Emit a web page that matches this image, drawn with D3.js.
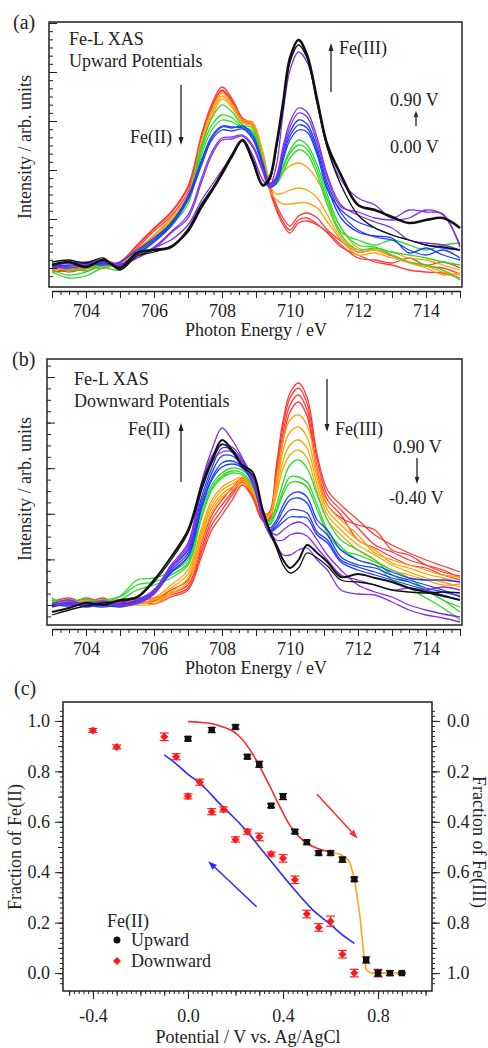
<!DOCTYPE html>
<html>
<head>
<meta charset="utf-8">
<script src="https://cdn.jsdelivr.net/npm/d3@7"></script>
<style>
body { margin: 0; background: #fff; }
text { font-family: "Liberation Serif", "Times New Roman", serif; fill: #222; }
</style>
</head>
<body>
<div id="mainDiv"></div>
<script>
// photon energy grid shared by every spectrum (eV)
var energy = [703,703.5,704,704.5,705,705.5,706,706.5,707,707.4,707.7,708,708.3,708.6,708.9,709.2,709.4,709.6,709.8,710,710.25,710.5,710.8,711.1,711.5,712,712.5,713,713.5,714,714.5,715];
var energyTicks = [704,706,708,710,712,714];

// (a) upward potentials, intensity / arb. units
var upRed = [
  [-2,2,-3,4,6,22,39,55,80,134,164,181,169,150,144,115,83,63,50,42,52,55,50,38,27,16,18,12,6,2,0,-6],
  [0,-4,0,2,5,20,37,52,76,130,160,178,167,148,144,112,80,60,46,38,48,50,44,35,21,13,6,3,-2,-4,-5,-10],
  [-4,-2,1,0,6,23,40,56,82,132,162,177,165,147,142,110,78,58,43,35,45,47,43,36,23,10,8,5,10,3,6,0]
];
var upOrange = [
  [-1,0,2,3,4,18,33,50,73,128,158,175,164,148,146,116,90,88,96,102,105,101,88,68,40,20,18,16,10,8,3,-2],
  [-3,1,3,6,2,16,32,48,71,123,155,172,162,146,144,113,83,74,75,78,80,78,70,53,30,16,18,13,6,2,-4,-7],
  [1,-2,0,2,3,15,30,46,68,120,151,169,160,145,142,110,78,68,64,64,65,65,60,46,28,13,15,10,5,0,-7,-5]
];
var upGreen = [
  [-4,-10,-8,0,-2,13,28,46,70,123,150,163,156,143,140,108,85,88,102,118,128,123,103,73,40,23,21,13,6,3,-2,-12],
  [-2,-7,-4,3,2,14,28,44,68,118,143,153,150,141,137,105,83,86,100,115,123,119,98,68,36,28,23,28,23,18,23,25],
  [2,-2,-1,4,1,12,26,42,64,113,138,148,146,140,135,103,82,84,96,110,118,114,93,63,33,18,20,16,13,10,6,3]
];
var upBlue = [
  [0,3,2,5,3,16,28,43,70,106,130,141,140,142,133,105,85,90,116,136,148,144,120,85,55,38,31,28,18,13,18,10],
  [4,2,5,3,6,18,30,45,72,108,132,142,141,140,131,103,83,88,112,132,143,140,116,81,50,36,32,30,15,20,13,8],
  [2,0,3,6,2,14,26,42,68,103,128,138,137,139,129,101,81,85,108,128,138,136,113,78,58,46,40,33,28,23,20,18]
];
var upPurple = [
  [3,5,6,8,4,10,20,28,43,68,83,98,113,128,113,88,82,103,156,198,216,206,168,120,88,70,63,50,58,56,54,21],
  [0,2,5,6,4,12,21,36,53,90,116,130,131,133,123,98,81,92,122,146,160,156,130,93,63,53,46,40,28,25,23,18],
  [2,5,3,7,2,10,19,35,50,86,113,128,129,132,121,96,80,89,118,141,155,151,125,90,61,56,50,48,50,58,53,23]
];
var upBlack = [
  [3,6,1,8,0,15,18,21,38,63,78,95,113,128,108,83,90,123,166,210,228,213,168,123,93,63,58,51,45,48,50,40],
  [6,8,5,10,-2,12,16,22,36,60,76,93,111,127,106,82,88,120,162,206,223,210,164,120,83,53,40,33,28,23,21,18]
];

// (b) downward potentials
var downRed = [
  [3,7,1,5,2,7,5,15,25,62,90,105,117,127,113,90,93,140,185,212,222,208,150,115,100,85,70,60,52,45,39,33],
  [0,5,2,7,-1,5,7,12,20,57,85,100,113,125,111,87,90,135,180,207,217,202,145,110,95,77,60,53,45,40,35,27],
  [5,1,7,3,5,2,4,10,17,53,80,95,110,123,109,85,87,130,173,200,210,195,137,105,90,65,57,48,40,37,30,25],
  [-1,3,5,1,3,5,1,8,15,49,75,90,105,120,107,84,85,125,165,193,203,189,133,100,87,80,75,55,50,40,33,29]
];
var downOrange = [
  [2,5,0,4,1,5,7,20,35,77,105,118,124,128,118,94,91,125,165,185,190,180,135,100,85,70,52,45,40,35,30,28],
  [4,1,5,2,5,3,5,17,31,73,101,115,121,126,116,92,91,120,155,173,178,168,127,95,80,65,55,42,37,31,27,23],
  [1,4,2,5,-1,2,3,13,27,69,97,111,118,124,114,91,90,115,145,160,165,157,120,90,75,60,50,40,33,27,23,18],
  [5,2,4,0,2,0,1,11,23,65,93,108,115,122,112,90,89,110,137,150,155,147,113,85,70,55,45,35,30,25,20,21]
];
var downGreen = [
  [7,0,3,5,9,25,27,33,45,95,120,132,137,135,123,95,83,100,123,140,145,137,110,85,65,55,45,30,23,15,5,-7],
  [2,5,1,3,8,20,23,30,42,90,117,129,134,132,120,92,81,95,115,128,128,123,100,75,58,45,40,25,17,7,-3,-15],
  [5,3,6,1,5,15,20,27,40,87,115,127,132,130,118,90,80,93,111,122,123,118,95,72,55,50,43,35,27,15,5,-2]
];
var downBlue = [
  [0,2,-2,1,-1,5,15,37,55,108,137,157,155,143,127,90,77,85,100,110,113,108,85,75,55,45,40,33,27,25,25,23],
  [-2,1,-1,3,0,4,13,35,52,103,132,149,149,140,125,88,75,82,95,105,107,102,80,70,48,40,37,30,25,20,15,8],
  [1,-1,2,0,-2,2,11,33,49,99,127,142,144,138,123,87,74,79,88,95,95,92,73,65,45,38,33,27,23,17,13,9],
  [-1,2,0,-2,1,3,12,32,48,97,125,138,141,137,122,86,73,77,83,88,88,87,70,62,43,35,30,25,20,15,10,5]
];
var downPurple = [
  [-1,3,1,4,0,2,13,38,60,123,155,177,165,147,127,90,75,70,75,80,83,79,65,50,35,20,13,8,0,-5,-9,-12],
  [2,0,3,1,2,5,15,40,62,120,149,160,158,145,125,88,73,65,65,70,72,69,57,45,30,25,20,15,17,15,18,15],
  [1,5,-1,3,-1,1,11,37,57,115,143,153,153,143,124,86,70,60,50,50,55,57,45,35,15,11,10,3,-5,-10,-13,-17]
];
var downBlack = [
  [-7,-3,2,0,5,8,25,48,75,120,145,165,155,140,133,95,75,60,45,37,45,60,52,43,28,31,27,23,17,13,9,5],
  [-10,-5,-1,2,4,7,23,45,72,115,142,161,153,138,130,93,73,57,40,32,37,52,47,39,25,23,20,15,13,12,13,12]
];

// (c) fraction of Fe(II) vs potential
var potUp   = [0.0,0.1,0.2,0.25,0.3,0.35,0.4,0.45,0.5,0.55,0.6,0.65,0.7,0.75,0.8,0.85,0.9];
var fracUp  = [0.929,0.964,0.976,0.858,0.828,0.664,0.700,0.561,0.519,0.476,0.476,0.450,0.372,0.052,0.0,0.0,0.0];
var errUp   = [0.008,0.01,0.008,0.008,0.012,0.008,0.012,0.008,0.008,0.008,0.008,0.01,0.008,0.012,0.012,0.01,0.004];
var potDown  = [-0.4,-0.3,-0.1,-0.05,0.0,0.05,0.1,0.15,0.2,0.25,0.3,0.35,0.4,0.45,0.5,0.55,0.6,0.65,0.7,0.8];
var fracDown = [0.962,0.897,0.937,0.858,0.701,0.757,0.640,0.649,0.530,0.561,0.540,0.472,0.455,0.370,0.234,0.181,0.206,0.075,0.0,0.0];
var errDown  = [0.008,0.008,0.015,0.012,0.01,0.012,0.012,0.01,0.01,0.01,0.015,0.008,0.015,0.015,0.015,0.015,0.02,0.015,0.015,0.015];
var fitRed = [[0.0,0.997],[0.05,0.995],[0.107,0.988],[0.15,0.975],[0.191,0.958],[0.23,0.925],[0.261,0.885],[0.29,0.84],[0.317,0.792],[0.34,0.75],[0.359,0.713],[0.38,0.672],[0.401,0.634],[0.42,0.6],[0.443,0.567],[0.47,0.538],[0.5,0.515],[0.53,0.5],[0.556,0.491],[0.585,0.483],[0.612,0.477]];
var fitOrange = [[0.61,0.477],[0.635,0.472],[0.654,0.464],[0.67,0.452],[0.682,0.435],[0.693,0.4],[0.703,0.356],[0.714,0.29],[0.724,0.223],[0.731,0.155],[0.738,0.091],[0.745,0.04],[0.752,0.012],[0.765,0.003],[0.78,0.0],[0.85,0.0],[0.9,0.0]];
var fitBlue = [[-0.1,0.865],[-0.05,0.83],[-0.005,0.792],[0.04,0.76],[0.08,0.726],[0.13,0.675],[0.19,0.62],[0.25,0.56],[0.30,0.501],[0.36,0.432],[0.414,0.369],[0.47,0.307],[0.526,0.25],[0.57,0.215],[0.61,0.184],[0.65,0.152],[0.7,0.118]];
var arrowUp = [[0.542,0.71],[0.714,0.534]];
var arrowDown = [[0.289,0.263],[0.085,0.444]];
var potTicks = [-0.4,0.0,0.4,0.8];
var fracTicks = [0.0,0.2,0.4,0.6,0.8,1.0];

var svg = d3.select("#mainDiv").append("svg")
  .attr("width", 488)
  .attr("height", 1048);
svg.append("rect").attr("width", 488).attr("height", 1048).attr("fill", "#fff");

var cRed = "#ff3a3a", cOrange = "#ffa20a", cGreen = "#28dc28", cBlue = "#1f3cff", cPurple = "#8230e6", cBlack = "#111";

function addText(x, y, s, size, anchor) {
  return svg.append("text").attr("x", x).attr("y", y).attr("font-size", size + "px")
    .attr("text-anchor", anchor || "start").text(s);
}

function arrow(x1, y1, x2, y2, color, width, hl, hw) {
  var a = Math.atan2(y2 - y1, x2 - x1);
  var bx = x2 - hl * Math.cos(a), by = y2 - hl * Math.sin(a);
  svg.append("line").attr("x1", x1).attr("y1", y1).attr("x2", bx).attr("y2", by)
    .attr("stroke", color).attr("stroke-width", width);
  svg.append("polygon")
    .attr("points", [[x2, y2], [bx + hw * Math.sin(a), by - hw * Math.cos(a)], [bx - hw * Math.sin(a), by + hw * Math.cos(a)]].join(" "))
    .attr("fill", color);
}

function styleAxis(g) {
  g.attr("font-size", 18);
  g.selectAll("line").attr("stroke", "#222");
  g.select(".domain").attr("stroke", "#222").attr("stroke-width", 1.3);
}

function spectraPanel(opt) {
  var x = d3.scaleLinear().domain([703, 715]).range([52, 460]);
  var y = d3.scaleLinear().domain(opt.yDomain).range([opt.bottom, opt.top]);
  var line = d3.line()
    .x(function(d, i) { return x(energy[i]); })
    .y(function(d) { return y(d); })
    .curve(d3.curveCatmullRom.alpha(0.5));

  svg.append("clipPath").attr("id", "clip" + opt.id).append("rect")
    .attr("x", opt.left).attr("y", opt.top)
    .attr("width", opt.right - opt.left).attr("height", opt.bottom - opt.top);
  var g = svg.append("g").attr("clip-path", "url(#clip" + opt.id + ")");
  opt.groups.forEach(function(grp) {
    grp.curves.forEach(function(c, j) {
      g.append("path")
        .attr("d", line(c))
        .attr("fill", "none")
        .attr("stroke", grp.color)
        .attr("stroke-width", (grp.thick && j == 0) ? grp.thick : 1.3)
        .attr("stroke-linejoin", "round");
    });
  });

  svg.append("rect")
    .attr("x", opt.left).attr("y", opt.top)
    .attr("width", opt.right - opt.left).attr("height", opt.bottom - opt.top)
    .attr("fill", "none").attr("stroke", "#222").attr("stroke-width", 1.5);

  // y ticks, inside the frame, no labels
  var ks = d3.range(opt.kMin, opt.kMax + 1);
  var minor = ks.map(function(k) { return k * opt.step / opt.per; });
  var major = ks.filter(function(k) { return k % opt.per == 0; }).map(function(k) { return k * opt.step / opt.per; });
  var ya = svg.append("g").attr("transform", "translate(" + opt.left + ",0)")
    .call(d3.axisRight(y).tickValues(minor).tickSize(4).tickFormat(""));
  ya.select(".domain").remove();
  styleAxis(ya);
  var yb = svg.append("g").attr("transform", "translate(" + opt.left + ",0)")
    .call(d3.axisRight(y).tickValues(major).tickSize(8).tickFormat(""));
  yb.select(".domain").remove();
  styleAxis(yb);

  // x axis below the frame
  var xa = svg.append("g").attr("transform", "translate(0," + (opt.bottom + 4) + ")")
    .call(d3.axisBottom(x).tickValues(d3.range(0, 49).map(function(i) { return 703 + i / 4; }))
      .tickSize(4).tickSizeOuter(0).tickFormat(""));
  styleAxis(xa);
  var xb = svg.append("g").attr("transform", "translate(0," + (opt.bottom + 4) + ")")
    .call(d3.axisBottom(x).tickValues(d3.range(703, 716)).tickSize(7).tickPadding(6)
      .tickFormat(function(d) { return energyTicks.indexOf(d) >= 0 ? d : ""; }));
  xb.select(".domain").remove();
  styleAxis(xb);

  addText(256, opt.bottom + 49, "Photon Energy / eV", 18, "middle");
  svg.append("text")
    .attr("transform", "translate(25," + opt.labelY + ") rotate(-90)")
    .attr("dy", "0.35em").attr("text-anchor", "middle").attr("font-size", "18px")
    .text("Intensity / arb. units");
}

// ---- panel (a)
spectraPanel({
  id: "a", top: 22, bottom: 287, left: 49, right: 462, labelY: 147,
  yDomain: [-19, 246], step: 49, per: 6, kMin: -1, kMax: 30,
  groups: [
    { color: cRed, curves: upRed },
    { color: cOrange, curves: upOrange },
    { color: cGreen, curves: upGreen },
    { color: cBlue, curves: upBlue },
    { color: cPurple, curves: upPurple },
    { color: cBlack, curves: upBlack, thick: 2.6 }
  ]
});
addText(13, 29, "(a)", 20);
addText(69, 45, "Fe-L XAS", 18);
addText(69, 67, "Upward Potentials", 18);
addText(172, 143, "Fe(II)", 18, "end");
arrow(181, 85, 181, 145, "#222", 1.3, 8, 2.5);
addText(339, 54, "Fe(III)", 18);
arrow(331, 92, 331, 43, "#222", 1.3, 8, 2.5);
addText(390, 106, "0.90 V", 18);
arrow(416, 126, 416, 111, "#222", 1.3, 6, 2.3);
addText(390, 153, "0.00 V", 18);

// ---- panel (b)
spectraPanel({
  id: "b", top: 359, bottom: 625, left: 47, right: 462, labelY: 489,
  yDomain: [-20, 246], step: 45.6, per: 4, kMin: -1, kMax: 21,
  groups: [
    { color: cRed, curves: downRed },
    { color: cOrange, curves: downOrange },
    { color: cGreen, curves: downGreen },
    { color: cBlue, curves: downBlue },
    { color: cPurple, curves: downPurple },
    { color: cBlack, curves: downBlack, thick: 2.0 }
  ]
});
addText(12, 366, "(b)", 20);
addText(74, 385, "Fe-L XAS", 18);
addText(74, 407, "Downward Potentials", 18);
addText(170, 435, "Fe(II)", 18, "end");
arrow(181, 482, 181, 423, "#222", 1.3, 8, 2.5);
addText(335, 435, "Fe(III)", 18);
arrow(327, 379, 327, 432, "#222", 1.3, 8, 2.5);
addText(393, 453, "0.90 V", 18);
arrow(417, 458, 417, 484, "#222", 1.3, 7, 2.3);
addText(389, 504, "-0.40 V", 18);

// ---- panel (c)
var cL = 63, cR = 432, cT = 702, cB = 991;
var xC = d3.scaleLinear().domain([-0.526, 1.027]).range([cL, cR]);
var yC = d3.scaleLinear().domain([-0.071, 1.075]).range([cB, cT]);
var yR = d3.scaleLinear().domain([1.071, -0.075]).range([cB, cT]);
var fmt = function(d) { return d.toFixed(1); };

svg.append("rect").attr("x", cL).attr("y", cT).attr("width", cR - cL).attr("height", cB - cT)
  .attr("fill", "none").attr("stroke", "#222").attr("stroke-width", 1.5);

function ticksC(axisFn, scale, tr, vals, size, labels, pad) {
  var g = svg.append("g").attr("transform", tr)
    .call(axisFn(scale).tickValues(vals).tickSize(size).tickSizeOuter(0).tickPadding(pad || 3)
      .tickFormat(labels ? fmt : ""));
  g.select(".domain").remove();
  styleAxis(g);
  return g;
}
var fracMinor = d3.range(-4, 105, 2).map(function(k) { return k / 100; });
var fracMid = d3.range(0, 11).map(function(k) { return k / 10; });
var potMinor = d3.range(-50, 101, 2).map(function(k) { return k / 100; });
var potMid = d3.range(-5, 11).map(function(k) { return k / 10; });

ticksC(d3.axisLeft, yC, "translate(" + cL + ",0)", fracMinor, 3);
ticksC(d3.axisLeft, yC, "translate(" + cL + ",0)", fracMid, 5);
ticksC(d3.axisLeft, yC, "translate(" + cL + ",0)", fracTicks, 8, true, 5);
ticksC(d3.axisRight, yR, "translate(" + cR + ",0)", fracMinor, 3);
ticksC(d3.axisRight, yR, "translate(" + cR + ",0)", fracMid, 5);
ticksC(d3.axisRight, yR, "translate(" + cR + ",0)", fracTicks, 8, true, 7);
ticksC(d3.axisBottom, xC, "translate(0," + cB + ")", potMinor, 3);
ticksC(d3.axisBottom, xC, "translate(0," + cB + ")", potMid, 5);
ticksC(d3.axisBottom, xC, "translate(0," + cB + ")", potTicks, 8, true, 10);

var fitLine = d3.line()
  .x(function(d) { return xC(d[0]); })
  .y(function(d) { return yC(d[1]); })
  .curve(d3.curveCatmullRom.alpha(0.5));
[[fitRed, "#ff2a2a"], [fitBlue, "#2a2aff"], [fitOrange, "#ffa51f"]].forEach(function(f) {
  svg.append("path").attr("d", fitLine(f[0])).attr("fill", "none")
    .attr("stroke", f[1]).attr("stroke-width", 1.6);
});

arrow(xC(arrowUp[0][0]), yC(arrowUp[0][1]), xC(arrowUp[1][0]), yC(arrowUp[1][1]), "#ff2a2a", 1.5, 9, 3.2);
arrow(xC(arrowDown[0][0]), yC(arrowDown[0][1]), xC(arrowDown[1][0]), yC(arrowDown[1][1]), "#2a2aff", 1.5, 9, 3.2);

function errBar(xv, yv, e, color, cap) {
  var px = xC(xv);
  svg.append("line").attr("x1", px).attr("x2", px).attr("y1", yC(yv - e)).attr("y2", yC(yv + e))
    .attr("stroke", color).attr("stroke-width", 1.2);
  [yv - e, yv + e].forEach(function(v) {
    svg.append("line").attr("x1", px - cap).attr("x2", px + cap).attr("y1", yC(v)).attr("y2", yC(v))
      .attr("stroke", color).attr("stroke-width", 1.2);
  });
}
var diamond = "M0,-4L4,0L0,4L-4,0Z";

potDown.forEach(function(p, i) {
  errBar(p, fracDown[i], errDown[i], "#ff2020", 4.5);
  svg.append("path").attr("d", diamond)
    .attr("transform", "translate(" + xC(p) + "," + yC(fracDown[i]) + ")")
    .attr("fill", "#ff1a1a");
});
potUp.forEach(function(p, i) {
  errBar(p, fracUp[i], errUp[i], "#111", 4);
  svg.append("rect").attr("x", xC(p) - 3.2).attr("y", yC(fracUp[i]) - 3.2)
    .attr("width", 6.4).attr("height", 6.4).attr("fill", "#111");
});

// legend
addText(107, 927, "Fe(II)", 18);
svg.append("circle").attr("cx", 117).attr("cy", 940).attr("r", 3.5).attr("fill", "#111");
addText(131, 946, "Upward", 18);
svg.append("path").attr("d", diamond).attr("transform", "translate(117,961)").attr("fill", "#ff1a1a");
addText(131, 967, "Downward", 18);

addText(14, 695, "(c)", 20);
addText(248, 1043, "Potential / V vs. Ag/AgCl", 18, "middle");
svg.append("text").attr("transform", "translate(15,847) rotate(-90)")
  .attr("dy", "0.35em").attr("text-anchor", "middle").attr("font-size", "18px")
  .text("Fraction of Fe(II)");
svg.append("text").attr("transform", "translate(479,842) rotate(90)")
  .attr("dy", "0.35em").attr("text-anchor", "middle").attr("font-size", "18px")
  .text("Fraction of Fe(III)");
</script>
</body>
</html>
